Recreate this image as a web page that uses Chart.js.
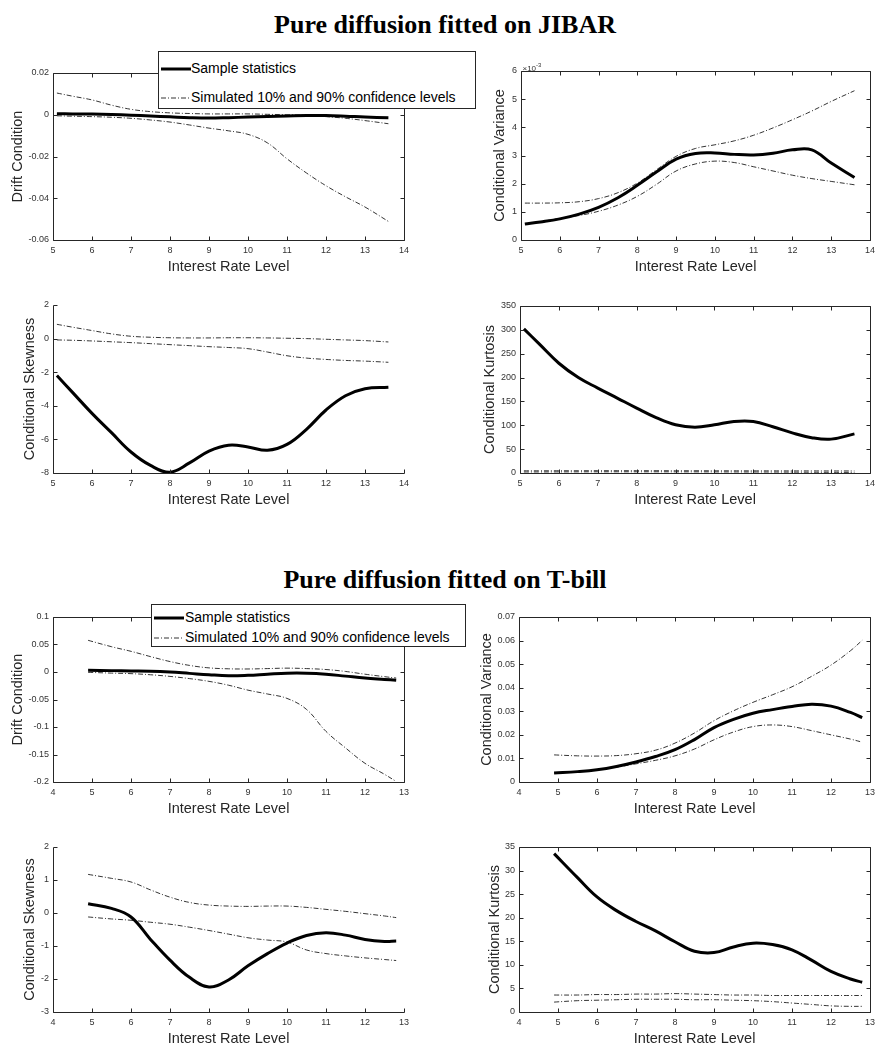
<!DOCTYPE html>
<html>
<head>
<meta charset="utf-8">
<script src="https://cdn.jsdelivr.net/npm/chart.js@4.4.1/dist/chart.umd.min.js"></script>
<style>
body { margin: 0; background: #fff; }
#page { position: relative; width: 880px; height: 1047px; overflow: hidden; }
#page canvas { position: absolute; }
.title { position: absolute; left: 0; width: 890px; text-align: center; line-height: 26px;
  font: bold 26px "Liberation Serif", "Times New Roman", serif; color: #000; }
.legend { position: absolute; background: #fff; border: 1px solid #262626; box-sizing: border-box;
  font: 14px "Liberation Sans", Arial, sans-serif; color: #000; z-index: 5; }
.legend .row { position: absolute; left: 0; right: 0; height: 17px; line-height: 17px; white-space: nowrap; }
.legend svg { position: absolute; top: 7px; }
.legend span { position: absolute; }
</style>
</head>
<body>
<div id="page">
  <div class="title" style="top:10px">Pure diffusion fitted on JIBAR</div>
  <div class="title" style="top:565px">Pure diffusion fitted on T-bill</div>

  <div class="legend" style="left:158px; top:51px; width:318px; height:58px">
    <div class="row" style="top:8px">
      <svg width="30" height="4" style="left:2px"><line x1="0" y1="2" x2="30" y2="2" stroke="#000" stroke-width="3"/></svg>
      <span style="left:32px">Sample statistics</span>
    </div>
    <div class="row" style="top:37px">
      <svg width="30" height="4" style="left:2px"><line x1="0" y1="2" x2="30" y2="2" stroke="#000" stroke-width="0.8" stroke-dasharray="5,2,1,2"/></svg>
      <span style="left:32px">Simulated 10% and 90% confidence levels</span>
    </div>
  </div>

  <div class="legend" style="left:151px; top:604px; width:315px; height:43px">
    <div class="row" style="top:4px">
      <svg width="30" height="4" style="left:2px"><line x1="0" y1="2" x2="30" y2="2" stroke="#000" stroke-width="3"/></svg>
      <span style="left:33px">Sample statistics</span>
    </div>
    <div class="row" style="top:24px">
      <svg width="30" height="4" style="left:2px"><line x1="0" y1="2" x2="30" y2="2" stroke="#000" stroke-width="0.8" stroke-dasharray="5,2,1,2"/></svg>
      <span style="left:33px">Simulated 10% and 90% confidence levels</span>
    </div>
  </div>
</div>

<script>
// 利率水平网格
const jibarX = [5.1, 5.5, 6, 6.5, 7, 7.5, 8, 8.5, 9, 9.5, 10, 10.5, 11, 11.5, 12, 12.5, 13, 13.6];
const tbillX = [4.9, 5.5, 6, 6.5, 7, 7.5, 8, 8.5, 9, 9.5, 10, 10.5, 11, 11.5, 12, 12.5, 12.8];

// JIBAR: drift
const jibarDrift   = [0.0005, 0.0004, 0.0003, 0.0001, -0.0002, -0.0006, -0.001, -0.0014, -0.0016, -0.0014, -0.0011, -0.0008, -0.0006, -0.0004, -0.0004, -0.0007, -0.0011, -0.0014];
const jibarDriftHi = [0.0104, 0.0089, 0.0071, 0.0046, 0.0026, 0.0015, 0.0009, 0.0006, 0.0004, 0.0004, 0.0004, 0.0002, 0.0, -0.0003, -0.0009, -0.0017, -0.0028, -0.0043];
const jibarDriftLo = [-0.0005, -0.0007, -0.0009, -0.0012, -0.0017, -0.0025, -0.0035, -0.0049, -0.0064, -0.0077, -0.0094, -0.0135, -0.0211, -0.0279, -0.034, -0.0393, -0.0442, -0.0511];

// JIBAR: variance (in units of 1e-3)
const jibarVar   = [0.57, 0.64, 0.75, 0.92, 1.16, 1.5, 1.94, 2.42, 2.87, 3.07, 3.09, 3.04, 3.02, 3.08, 3.2, 3.2, 2.73, 2.22];
const jibarVarHi = [1.31, 1.31, 1.32, 1.36, 1.47, 1.68, 2.02, 2.5, 2.97, 3.25, 3.38, 3.52, 3.72, 3.98, 4.27, 4.58, 4.92, 5.3];
const jibarVarLo = [0.58, 0.65, 0.77, 0.87, 1.02, 1.24, 1.55, 1.98, 2.45, 2.7, 2.8, 2.75, 2.6, 2.45, 2.3, 2.18, 2.08, 1.96];

// JIBAR: skewness
const jibarSkew   = [-2.2, -3.2, -4.45, -5.6, -6.75, -7.55, -7.95, -7.4, -6.7, -6.35, -6.45, -6.65, -6.3, -5.4, -4.25, -3.4, -2.98, -2.9];
const jibarSkewHi = [0.85, 0.68, 0.48, 0.28, 0.14, 0.08, 0.05, 0.04, 0.04, 0.05, 0.05, 0.04, 0.02, 0, -0.04, -0.08, -0.12, -0.2];
const jibarSkewLo = [-0.08, -0.1, -0.14, -0.19, -0.24, -0.3, -0.36, -0.42, -0.48, -0.53, -0.6, -0.8, -1.02, -1.16, -1.24, -1.3, -1.34, -1.41];

// JIBAR: kurtosis
const jibarKurt   = [302, 270, 230, 200, 178, 157, 136, 116, 101, 96, 101, 108, 108, 97, 84, 74, 71, 82];
const jibarKurtHi = [4.6, 4.6, 4.7, 4.7, 4.8, 4.8, 4.8, 4.8, 4.7, 4.7, 4.6, 4.6, 4.5, 4.5, 4.4, 4.4, 4.3, 4.3];
const jibarKurtLo = [2.1, 2.2, 2.3, 2.4, 2.5, 2.5, 2.5, 2.5, 2.4, 2.4, 2.3, 2.2, 2.1, 2.0, 1.8, 1.6, 1.4, 1.3];

// T-bill: drift
const tbillDrift   = [0.003, 0.0025, 0.002, 0.0015, 0.0, -0.0025, -0.005, -0.0068, -0.006, -0.004, -0.0022, -0.0022, -0.004, -0.0075, -0.011, -0.0135, -0.015];
const tbillDriftHi = [0.0576, 0.046, 0.0376, 0.028, 0.019, 0.012, 0.0075, 0.0058, 0.0055, 0.0062, 0.007, 0.0062, 0.0045, 0.001, -0.004, -0.0085, -0.011];
const tbillDriftLo = [-0.0006, -0.002, -0.003, -0.005, -0.008, -0.012, -0.017, -0.024, -0.033, -0.04, -0.048, -0.068, -0.108, -0.138, -0.166, -0.186, -0.199];

// T-bill: variance
const tbillVar   = [0.0038, 0.0044, 0.0052, 0.0066, 0.0085, 0.0108, 0.0137, 0.018, 0.0231, 0.0266, 0.0292, 0.0307, 0.032, 0.033, 0.0322, 0.0295, 0.0273];
const tbillVarHi = [0.0115, 0.0111, 0.011, 0.0112, 0.012, 0.0135, 0.0165, 0.0208, 0.026, 0.0302, 0.0338, 0.037, 0.0404, 0.0448, 0.0496, 0.0557, 0.0601];
const tbillVarLo = [0.0038, 0.0044, 0.0052, 0.0063, 0.0077, 0.0092, 0.0111, 0.014, 0.0179, 0.0212, 0.0235, 0.0242, 0.0235, 0.0218, 0.02, 0.0182, 0.0169];

// T-bill: skewness
const tbillSkew   = [0.28, 0.14, -0.12, -0.8, -1.43, -1.95, -2.24, -2.03, -1.6, -1.23, -0.91, -0.68, -0.6, -0.67, -0.8, -0.86, -0.85];
const tbillSkewHi = [1.17, 1.05, 0.94, 0.7, 0.48, 0.32, 0.24, 0.21, 0.2, 0.21, 0.21, 0.17, 0.11, 0.05, -0.02, -0.09, -0.14];
const tbillSkewLo = [-0.12, -0.18, -0.22, -0.28, -0.34, -0.43, -0.53, -0.64, -0.75, -0.82, -0.88, -1.12, -1.23, -1.3, -1.36, -1.41, -1.44];

// T-bill: kurtosis
const tbillKurt   = [33.6, 28.5, 24.4, 21.5, 19.2, 17.2, 14.9, 12.9, 12.6, 13.8, 14.6, 14.3, 13.2, 11.0, 8.6, 7.0, 6.3];
const tbillKurtHi = [3.6, 3.6, 3.7, 3.7, 3.8, 3.8, 3.9, 3.8, 3.7, 3.6, 3.6, 3.5, 3.5, 3.5, 3.5, 3.5, 3.5];
const tbillKurtLo = [2.1, 2.4, 2.5, 2.6, 2.7, 2.7, 2.7, 2.6, 2.6, 2.5, 2.4, 2.2, 1.9, 1.6, 1.3, 1.2, 1.2];

const axisColor = '#262626';
const tickFont = { family: '"Liberation Sans", Arial, sans-serif', size: 9 };
const titleFont = { family: '"Liberation Sans", Arial, sans-serif', size: 14.5 };

// 面板位置: l/r/t/b 为绘图区, ytx 为 y 轴标题中心
const panels = [
  { l: 53, r: 408, t: 73, b: 240, ytx: 18, xs: jibarX, s: jibarDrift, hi: jibarDriftHi, lo: jibarDriftLo,
    xMin: 5, xMax: 14, yMin: -0.06, yMax: 0.02, step: 0.02, yTitle: 'Drift Condition', box: true },
  { l: 521, r: 874, t: 71, b: 240, ytx: 500, xs: jibarX, s: jibarVar, hi: jibarVarHi, lo: jibarVarLo,
    xMin: 5, xMax: 14, yMin: 0, yMax: 6, step: 1, yTitle: 'Conditional Variance', box: true, exponent: '-3' },
  { l: 53, r: 408, t: 305, b: 473, ytx: 30, xs: jibarX, s: jibarSkew, hi: jibarSkewHi, lo: jibarSkewLo,
    xMin: 5, xMax: 14, yMin: -8, yMax: 2, step: 2, yTitle: 'Conditional Skewness', box: false },
  { l: 520, r: 874, t: 306, b: 473, ytx: 490, xs: jibarX, s: jibarKurt, hi: jibarKurtHi, lo: jibarKurtLo,
    xMin: 5, xMax: 14, yMin: 0, yMax: 350, step: 50, yTitle: 'Conditional Kurtosis', box: true },
  { l: 53, r: 408, t: 617, b: 782, ytx: 18, xs: tbillX, s: tbillDrift, hi: tbillDriftHi, lo: tbillDriftLo,
    xMin: 4, xMax: 13, yMin: -0.2, yMax: 0.1, step: 0.05, yTitle: 'Drift Condition', box: true },
  { l: 519, r: 874, t: 617, b: 782, ytx: 487, xs: tbillX, s: tbillVar, hi: tbillVarHi, lo: tbillVarLo,
    xMin: 4, xMax: 13, yMin: 0, yMax: 0.07, step: 0.01, yTitle: 'Conditional Variance', box: true },
  { l: 53, r: 408, t: 847, b: 1012, ytx: 30, xs: tbillX, s: tbillSkew, hi: tbillSkewHi, lo: tbillSkewLo,
    xMin: 4, xMax: 13, yMin: -3, yMax: 2, step: 1, yTitle: 'Conditional Skewness', box: false },
  { l: 519, r: 874, t: 847, b: 1012, ytx: 495, xs: tbillX, s: tbillKurt, hi: tbillKurtHi, lo: tbillKurtLo,
    xMin: 4, xMax: 13, yMin: 0, yMax: 35, step: 5, yTitle: 'Conditional Kurtosis', box: true }
];

// MATLAB 风格的坐标框和向内刻度
const matlabAxes = {
  id: 'matlabAxes',
  afterDraw(chart, args, opts) {
    const { ctx, chartArea: a, scales: { x, y } } = chart;
    const L = Math.round(a.left) + 0.5, R = Math.round(a.right) + 0.5;
    const T = Math.round(a.top) + 0.5, B = Math.round(a.bottom) + 0.5;
    ctx.save();
    ctx.strokeStyle = axisColor;
    ctx.lineWidth = 1;
    ctx.beginPath();
    ctx.moveTo(L, T); ctx.lineTo(L, B); ctx.lineTo(R, B);
    if (opts.box) { ctx.lineTo(R, T); ctx.lineTo(L, T); }
    x.ticks.forEach(t => {
      const px = Math.round(x.getPixelForValue(t.value)) + 0.5;
      ctx.moveTo(px, B); ctx.lineTo(px, B - 4);
      if (opts.box) { ctx.moveTo(px, T); ctx.lineTo(px, T + 4); }
    });
    y.ticks.forEach(t => {
      const py = Math.round(y.getPixelForValue(t.value)) + 0.5;
      ctx.moveTo(L, py); ctx.lineTo(L + 4, py);
      if (opts.box) { ctx.moveTo(R, py); ctx.lineTo(R - 4, py); }
    });
    ctx.stroke();
    if (opts.exponent) {
      ctx.fillStyle = '#333';
      ctx.textBaseline = 'alphabetic';
      ctx.font = '8px "Liberation Sans", Arial, sans-serif';
      ctx.fillText('\u00d710', L + 1, T - 1);
      const w = ctx.measureText('\u00d710').width;
      ctx.font = '6px "Liberation Sans", Arial, sans-serif';
      ctx.fillText(opts.exponent, L + 1 + w, T - 5);
    }
    ctx.restore();
  }
};

const page = document.getElementById('page');
const fmt = v => String(parseFloat(Number(v).toFixed(6)));

panels.forEach(p => {
  const cLeft = Math.round(p.ytx - 9);
  const cTop = p.t - 10;
  const cv = document.createElement('canvas');
  cv.width = p.r + 6 - cLeft;
  cv.height = p.b + 36 - cTop;
  cv.style.left = cLeft + 'px';
  cv.style.top = cTop + 'px';
  page.appendChild(cv);

  const yWidth = p.l - cLeft;
  const pts = vals => p.xs.map((x, i) => ({ x: x, y: vals[i] }));
  const band = vals => ({
    data: pts(vals), borderColor: '#000', borderWidth: 0.8, borderDash: [5, 2, 1, 2],
    pointRadius: 0, tension: 0.4, fill: false
  });

  new Chart(cv, {
    type: 'line',
    data: {
      datasets: [
        band(p.hi),
        band(p.lo),
        { data: pts(p.s), borderColor: '#000', borderWidth: 3, pointRadius: 0,
          tension: 0.4, fill: false }
      ]
    },
    options: {
      responsive: false,
      animation: false,
      events: [],
      layout: { padding: { top: 10, right: 6, left: 0, bottom: 0 }, autoPadding: false },
      plugins: {
        legend: { display: false },
        tooltip: { enabled: false },
        matlabAxes: { box: p.box, exponent: p.exponent }
      },
      scales: {
        x: {
          type: 'linear', min: p.xMin, max: p.xMax,
          grid: { display: false, drawTicks: false },
          border: { display: false },
          ticks: { stepSize: 1, font: tickFont, color: '#333', padding: 5, maxRotation: 0, autoSkip: false, callback: fmt },
          title: { display: true, text: 'Interest Rate Level', font: titleFont, color: axisColor, padding: 0 },
          afterFit: s => { s.height = 36; }
        },
        y: {
          type: 'linear', min: p.yMin, max: p.yMax,
          grid: { display: false, drawTicks: false },
          border: { display: false },
          ticks: { stepSize: p.step, font: tickFont, color: '#333', padding: 4, autoSkip: false, callback: fmt },
          title: { display: true, text: p.yTitle, font: titleFont, color: axisColor, padding: 0 },
          afterFit: s => { s.width = yWidth; }
        }
      }
    },
    plugins: [matlabAxes]
  });
});
</script>
</body>
</html>
